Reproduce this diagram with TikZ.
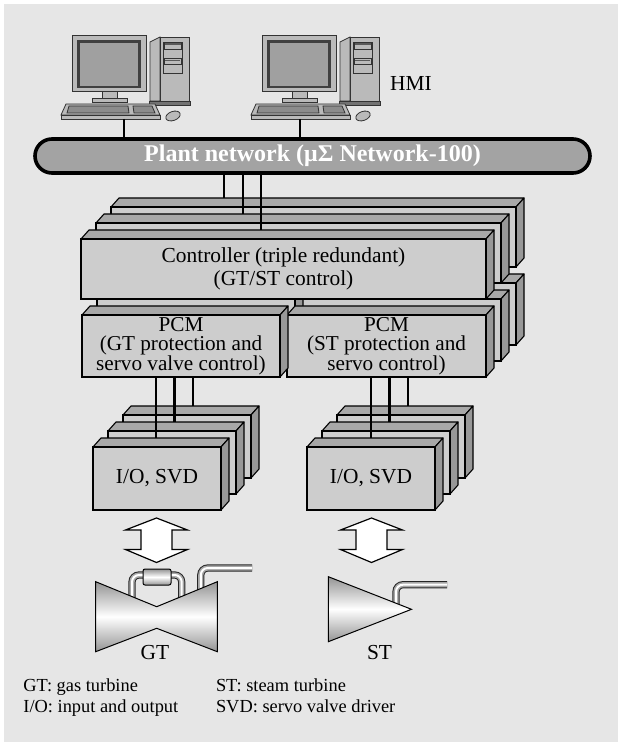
\documentclass[tikz,border=0pt]{standalone}
\usepackage{fontspec}
\setmainfont{Liberation Serif}
\usetikzlibrary{positioning}

\definecolor{panelbg}{RGB}{230,230,230}
\definecolor{facefront}{RGB}{205,205,205}
\definecolor{facetop}{RGB}{168,168,168}
\definecolor{faceside}{RGB}{152,152,152}
\definecolor{netgray}{RGB}{163,163,163}
\definecolor{casegray}{RGB}{186,186,186}
\definecolor{screengray}{RGB}{160,160,160}

\tikzset{
  cratefront/.style={draw, fill=facefront, line width=0.55pt, inner sep=0pt, outer sep=0pt, align=center, font=\fontsize{10.7}{11.7}\selectfont},
  cratetop/.style={draw, fill=facetop, line width=0.55pt, line join=round},
  crateside/.style={draw, fill=faceside, line width=0.55pt, line join=round},
  wire/.style={line width=1.4pt},
  netbar/.style={draw, fill=netgray, line width=1.8pt, rounded corners=8.5pt, minimum width=277.5pt, minimum height=17pt, inner sep=0pt, text=white, font=\fontsize{12}{14}\bfseries\selectfont},
  casing/.style={draw=black!80, fill=casegray, line width=0.4pt},
  screen/.style={draw=black!75, fill=screengray, line width=1.2pt},
  keyblock/.style={draw=black!80, fill=black!45, line width=0.4pt},
  duplex/.style={draw, fill=white, line width=0.6pt, line join=miter},
  turbine/.style={draw, line width=0.5pt, top color=black!42, bottom color=black!42, middle color=white},
  caption/.style={inner sep=0pt, font=\fontsize{10.7}{12}\selectfont},
  legend/.style={inner sep=0pt, text height=6.6pt, text depth=2pt, font=\fontsize{9.2}{11}\selectfont},
  pics/workstation/.style={code={
    % monitor
    \filldraw[casing] (0,0) rectangle (74,56);
    \filldraw[screen] (6.5,6.5) rectangle (67.5,52);
    \filldraw[casing] (30,56) rectangle (45,63);
    \filldraw[casing] (20,63) rectangle (55,67.5);
    % tower
    \filldraw[casing] (78,7) -- (88,2) -- (88,66) -- (78,66) -- cycle;
    \filldraw[casing] (88,2) rectangle (117,66);
    \filldraw[casing] (91,7) rectangle (110,38);
    \filldraw[casing] (92,8) rectangle (109,14);
    \fill[black!65] (92.5,8.5) rectangle (108.5,10.5);
    \filldraw[casing] (92,23) rectangle (109,29);
    \fill[black!65] (93,25) rectangle (108,26.5);
    \filldraw[casing, fill=black!55] (77,66) rectangle (118,70);
    % keyboard and mouse
    \filldraw[casing] (-6,69) -- (83,69) -- (88,80) -- (-11,80) -- cycle;
    \filldraw[casing] (-11,80) rectangle (88,84);
    \filldraw[keyblock] (-3,71) -- (56,71) -- (57,78) -- (-5,78) -- cycle;
    \filldraw[keyblock] (61,71) -- (80,71) -- (83,78) -- (62,78) -- cycle;
    \filldraw[casing, rotate around={20:(101,81)}] (101,81) ellipse [x radius=7.5, y radius=4.5];
    \coordinate (-port) at (#1,84);
  }}
}

% 3-D module: [options]{name}{x}{y}{width}{height}{text}
\newcommand{\crate}[7][]{%
  \filldraw[cratetop] (#3,#4) -- ++(8,-9) -- ++(#5,0) -- ++(-8,9) -- cycle;
  \filldraw[crateside] (#3+#5,#4) -- ++(8,-9) -- ++(0,#6) -- ++(-8,9) -- cycle;
  \node[cratefront, minimum width=#5*0.5pt, minimum height=#6*0.5pt, anchor=north west, #1] (#2) at (#3,#4) {#7};
  \coordinate (#2-back) at (#3+8,#4-9);
}

% piping drawn as a shaded tube
\newcommand{\tube}[1]{%
  \draw[line width=3.6pt, black!85, rounded corners=3.5pt] #1;
  \draw[line width=2.6pt, black!35, rounded corners=3.5pt] #1;
  \draw[line width=1pt, white, rounded corners=3.5pt] #1;
}

\begin{document}
\begin{tikzpicture}[x=0.5pt, y=-0.5pt]
\useasboundingbox (0,0) rectangle (618,742);
\fill[panelbg] (4,4) rectangle (618,742);

% HMI
\pic (hmiA) at (72,35) {workstation=52};
\pic (hmiB) at (262,35) {workstation=38};
\node[caption] (hmi) at (411,83) {HMI};

% plant network
\draw[wire] (hmiA-port) -- (hmiA-port |- 0,150);
\draw[wire] (hmiB-port) -- (hmiB-port |- 0,150);
\node[netbar] (net) at (312.5,156) {Plant network (μΣ Network-100)};

% controller and PCM, three layers
\crate{ctlC}{111}{207}{405}{60}{}
\crate{pcmSTc}{317}{283}{199}{62}{}
\crate{pcmGTc}{112}{283}{198}{62}{}
\crate{ctlB}{96}{223}{405}{60}{}
\crate{pcmSTb}{302}{299}{199}{62}{}
\crate{pcmGTb}{97}{299}{198}{62}{}
\crate{ctlA}{81}{239}{405}{60}{Controller (triple redundant)\\(GT/ST control)}
\crate[font=\fontsize{10.6}{9.7}\selectfont]{pcmSTa}{287}{315}{199}{62}{PCM\\(ST protection and\\servo control)}
\crate[font=\fontsize{10.6}{9.7}\selectfont]{pcmGTa}{82}{315}{198}{62}{PCM\\(GT protection and\\servo valve control)}

% I/O, SVD
\crate{ioGTc}{123}{415}{128}{63}{}
\crate{ioSTc}{337}{415}{128}{63}{}
\crate{ioGTb}{108}{431}{128}{63}{}
\crate{ioSTb}{322}{431}{128}{63}{}
\crate{ioGTa}{93}{447}{128}{63}{I/O, SVD}
\crate{ioSTa}{307}{447}{128}{63}{I/O, SVD}

% links
\draw[wire] (224,0 |- net.south) -- (224,0 |- ctlC-back);
\draw[wire] (243,0 |- net.south) -- (243,0 |- ctlB-back);
\draw[wire] (261,0 |- net.south) -- (261,0 |- ctlA-back);
\draw[wire] (156,0 |- pcmGTa.south) -- (156,0 |- ioGTa-back);
\draw[wire] (174.5,0 |- pcmGTa.south) -- (174.5,0 |- ioGTb-back);
\draw[wire] (193,0 |- pcmGTa.south) -- (193,0 |- ioGTc-back);
\draw[wire] (371,0 |- pcmSTa.south) -- (371,0 |- ioSTa-back);
\draw[wire] (389.5,0 |- pcmSTa.south) -- (389.5,0 |- ioSTb-back);
\draw[wire] (408,0 |- pcmSTa.south) -- (408,0 |- ioSTc-back);

% signal arrows
\draw[duplex] (156.5,518) -- (187.5,530) -- (172,530) -- (172,549.5) -- (187.5,549.5) -- (156.5,562.5) -- (125.5,549.5) -- (141,549.5) -- (141,530) -- (125.5,530) -- cycle;
\draw[duplex] (371.5,518) -- (402.5,530) -- (387,530) -- (387,549.5) -- (402.5,549.5) -- (371.5,562.5) -- (340.5,549.5) -- (356,549.5) -- (356,530) -- (340.5,530) -- cycle;

% gas turbine
\tube{(132,605) -- (132,575) -- (181.7,575) -- (181.7,605)}
\tube{(200.8,600) -- (200.8,568) -- (252,568)}
\draw[turbine] (95.7,581.7) -- (156.7,606.7) -- (217.3,581.7) -- (217.3,651.7) -- (156.7,628.3) -- (95.7,651.7) -- cycle;
\draw[turbine, rounded corners=1pt] (143,569) rectangle (171,585);
\node[caption, anchor=base] (gt) at (155,659.5) {GT};

% steam turbine
\tube{(396,610) -- (396,584.7) -- (447,584.7)}
\draw[turbine] (328.3,576.7) -- (411.5,609.3) -- (328.3,641.7) -- cycle;
\node[caption, anchor=base] (st) at (379.5,659.5) {ST};

% legend
\node[legend, anchor=base west] (keyGT) at (23,691) {GT: gas turbine};
\node[legend, below=1.75pt of keyGT.south west, anchor=north west] (keyIO) {I/O: input and output};
\node[legend, anchor=base west] (keyST) at (215.6,691) {ST: steam turbine};
\node[legend, below=1.75pt of keyST.south west, anchor=north west] (keySVD) {SVD: servo valve driver};
\end{tikzpicture}
\end{document}
